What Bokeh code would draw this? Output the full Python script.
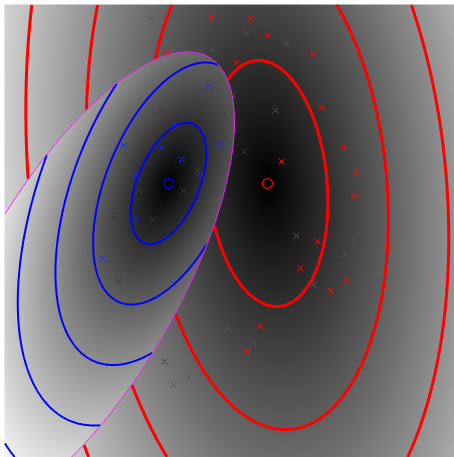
import numpy as np
from bokeh.plotting import figure
from bokeh.models import LinearColorMapper, Range1d
from bokeh.palettes import gray
from bokeh.embed import file_html
from bokeh.resources import INLINE

# ---- data (chart units: x to the right, y upwards) ----
blue_x = [204, 157, 220, 203, 170, 222, 216, 119, 157, 240, 177, 193, 197,
          131, 126, 135, 179, 110, 132, 148, 123, 98, 114, 169, 160]
blue_y = [371, 347, 344, 337, 333, 320, 313, 312, 310, 306, 298, 287, 282,
          282, 272, 267, 267, 242, 239, 238, 221, 199, 176, 174, 96]
red_x = [147, 207, 246, 182, 242, 263, 282, 208, 162, 308, 232, 228, 271,
         317, 339, 277, 352, 350, 292, 313, 350, 341, 296, 342, 309, 326,
         223, 256, 249, 243, 203, 184, 169]
red_y = [439, 440, 439, 426, 424, 422, 414, 408, 405, 403, 395, 362, 347,
         350, 310, 296, 285, 261, 222, 216, 216, 203, 189, 177, 173, 167,
         129, 131, 115, 106, 87, 80, 73]

blue_mean = [164, 274]
red_mean = [263, 274]
blue_cov = [[1420, 1120], [1120, 3660]]
red_cov = [[3650, -1100], [-1100, 15130]]
contour_levels = [1, 2, 3, 4, 5]
shade_max = 5.35

img_x0, img_x1 = 0, 450
img_y0, img_y1 = 0, 453

p = figure(width=454, height=457,
           x_range=Range1d(-4, 450), y_range=Range1d(0, 457),
           output_backend="svg", toolbar_location=None, min_border=0)
p.axis.visible = False
p.grid.visible = False
p.outline_line_color = None
p.background_fill_color = "white"
p.border_fill_color = "white"

xs = np.arange(img_x0, img_x1) + 0.5
ys = np.arange(img_y0, img_y1) + 0.5
GX, GY = np.meshgrid(xs, ys)


def maha2(mean, cov):
    inv = np.linalg.inv(np.array(cov, float))
    dx = GX - mean[0]
    dy = GY - mean[1]
    return inv[0, 0] * dx * dx + 2 * inv[0, 1] * dx * dy + inv[1, 1] * dy * dy


db2 = maha2(blue_mean, blue_cov)
dr2 = maha2(red_mean, red_cov)
lb = db2 + np.log(np.linalg.det(np.array(blue_cov, float)))
lr = dr2 + np.log(np.linalg.det(np.array(red_cov, float)))
blue_wins = lb < lr
dist = np.sqrt(np.where(blue_wins, db2, dr2))

mapper = LinearColorMapper(palette=gray(256), low=0, high=shade_max)
p.image(image=[dist], x=img_x0, y=img_y0, dw=img_x1 - img_x0,
        dh=img_y1 - img_y0, color_mapper=mapper)

zr = np.where(~blue_wins, np.sqrt(dr2), np.nan)
zb = np.where(blue_wins, np.sqrt(db2), np.nan)
p.contour(xs, ys, zr, contour_levels, line_color="#ff0000", line_width=3)
p.contour(xs, ys, zb, contour_levels, line_color="#0000ff", line_width=2)
p.contour(xs, ys, lb - lr, [0], line_color="#ee22ee", line_width=1)

p.scatter(red_x, red_y, marker="x", size=8, line_color="#cc2222", line_width=1)
p.scatter(blue_x, blue_y, marker="x", size=8, line_color="#2a2ab8", line_width=1)
p.scatter([red_mean[0]], [red_mean[1]], marker="circle", size=10,
          fill_color=None, line_color="#ff0000", line_width=1.2)
p.scatter([blue_mean[0]], [blue_mean[1]], marker="circle", size=10,
          fill_color=None, line_color="#0000ff", line_width=1.2)

open("out.html", "w").write(file_html(p, INLINE))
